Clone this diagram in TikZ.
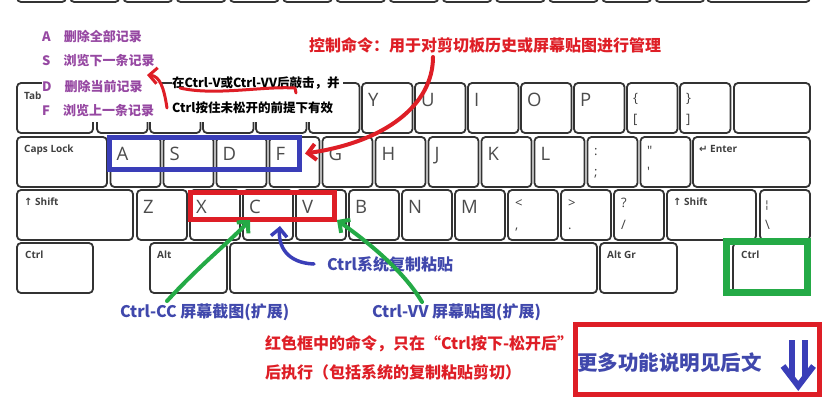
\documentclass[tikz,border=0pt]{standalone}
\usepackage{fontspec}
\setmainfont{Open Sans}
\newfontfamily\cjk{Noto Sans CJK SC}
\newfontfamily\arrowfont{DejaVu Sans}
\usetikzlibrary{arrows.meta}

\definecolor{penred}{RGB}{222,30,38}
\definecolor{penblue}{RGB}{58,62,184}
\definecolor{txtblue}{RGB}{64,72,172}
\definecolor{pengreen}{RGB}{36,170,70}
\definecolor{listpurple}{RGB}{150,72,162}

\tikzset{
  keycap/.style={draw=black!80, line width=1.8pt, rounded corners=4pt, fill=white},
  keychar/.style={anchor=base west, inner sep=0pt, text=black!70, font=\fontsize{18.5}{18.5}\selectfont},
  keyname/.style={anchor=base west, inner sep=0pt, text=black!75, font=\bfseries\fontsize{10}{10}\selectfont},
  keysym/.style={anchor=base west, inner sep=0pt, text=black!75, font=\fontsize{13}{13}\selectfont},
  listtext/.style={anchor=west, inner sep=0pt, text=listpurple, font=\cjk\bfseries\fontsize{13}{13}\selectfont},
  notetext/.style={anchor=west, inner sep=0pt, text=black, font=\cjk\bfseries\fontsize{12.5}{12.5}\selectfont},
  titletext/.style={inner sep=0pt, text=penred, font=\cjk\bfseries\fontsize{16}{16}\selectfont},
  bluetext/.style={anchor=west, inner sep=0pt, text=txtblue, font=\cjk\bfseries\fontsize{16}{16}\selectfont},
  redtext/.style={anchor=west, inner sep=0pt, text=penred, font=\cjk\bfseries\fontsize{16}{16}\selectfont},
  moretext/.style={anchor=west, inner sep=0pt, text=txtblue, font=\cjk\bfseries\fontsize{20.5}{20.5}\selectfont},
  penbox/.style={line width=5pt, inner sep=0pt},
  hand/.style={line width=4pt, line cap=round, line join=round},
  handtip/.style={-{Straight Barb[length=8pt,width=16pt]}}
}

\begin{document}
\begin{tikzpicture}[x=1pt,y=-1pt]
  %%%%% START %%%%%
  \def\rowN{2}
  \def\rowQ{83}
  \def\rowA{137}
  \def\rowZ{190}
  \def\rowB{243}
  \def\kh{50}
  \def\pitch{53}

  \useasboundingbox (0,0) rectangle (827,400);
  \clip (0,0) rectangle (827,400);

  % number row, only its lower edge is left
  \foreach \i in {0,...,12}
    \draw[keycap] ({17+53.2*\i},\rowN-\kh) rectangle ({66+53.2*\i},\rowN);
  \draw[keycap] (707,\rowN-\kh) rectangle (810,\rowN);

  % Q row
  \draw[keycap] (17,\rowQ) rectangle (93,\rowQ+\kh);
  \foreach \i in {0,...,11}
    \draw[keycap] ({97+\pitch*\i},\rowQ) rectangle ({147.5+\pitch*\i},\rowQ+\kh);
  \draw[keycap] (734,\rowQ) rectangle (810,\rowQ+\kh);
  \node[keyname] (ktab) at (24,\rowQ+16) {Tab};
  \foreach \l [count=\i from 5] in {Y,U,I,O,P}
    \node[keychar] (kq\i) at ({103+\pitch*\i},\rowQ+23.5) {\l};
  \node[keysym] (kbrl) at (633,\rowQ+19) {\{};
  \node[keysym] (kbkl) at (633,\rowQ+40) {[};
  \node[keysym] (kbrr) at (686,\rowQ+19) {\}};
  \node[keysym] (kbkr) at (686,\rowQ+40) {]};

  % A row
  \draw[keycap] (17,\rowA) rectangle (107,\rowA+\kh);
  \foreach \i in {0,...,10}
    \draw[keycap] ({110.5+\pitch*\i},\rowA) rectangle ({160.5+\pitch*\i},\rowA+\kh);
  \draw[keycap] (693,\rowA) rectangle (810,\rowA+\kh);
  \node[keyname] (kcaps) at (24,\rowA+15) {Caps Lock};
  \foreach \l [count=\i from 0] in {A,S,D,F,G,H,J,K,L}
    \node[keychar] (ka\i) at ({116.5+\pitch*\i},\rowA+23.5) {\l};
  \node[keysym] (kcolon) at (594,\rowA+18) {:};
  \node[keysym] (ksemi) at (594,\rowA+39) {;};
  \node[keysym] (kdquote) at (647,\rowA+18) {\textquotedbl};
  \node[keysym] (kquote) at (647,\rowA+39) {\textquotesingle};
  \node[keyname] (kenter) at (699,\rowA+15) {{\arrowfont ↵} Enter};

  % Z row
  \draw[keycap] (17,\rowZ) rectangle (133,\rowZ+\kh);
  \foreach \i in {0,...,9}
    \draw[keycap] ({137+\pitch*\i},\rowZ) rectangle ({187+\pitch*\i},\rowZ+\kh);
  \draw[keycap] (667,\rowZ) rectangle (756,\rowZ+\kh);
  \draw[keycap] (760,\rowZ) rectangle (810,\rowZ+\kh);
  \node[keyname] (klshift) at (24,\rowZ+15) {{\arrowfont ↑} Shift};
  \foreach \l [count=\i from 0] in {Z,X,C,V,B,N,M}
    \node[keychar] (kz\i) at ({143+\pitch*\i},\rowZ+23.5) {\l};
  \node[keysym] (kless) at (515,\rowZ+17) {<};
  \node[keysym] (kcomma) at (515,\rowZ+39) {,};
  \node[keysym] (kmore) at (568,\rowZ+17) {>};
  \node[keysym] (kdot) at (568,\rowZ+39) {.};
  \node[keysym] (kquest) at (621,\rowZ+17) {?};
  \node[keysym] (kslash) at (621,\rowZ+39) {/};
  \node[keyname] (krshift) at (673,\rowZ+15) {{\arrowfont ↑} Shift};
  \node[keysym] (kbar) at (765,\rowZ+18) {{\arrowfont\fontsize{11}{11}\selectfont ¦}};
  \node[keysym] (kbslash) at (765,\rowZ+39) {\textbackslash};

  % bottom row
  \draw[keycap] (17,\rowB) rectangle (93,\rowB+\kh);
  \draw[keycap] (150,\rowB) rectangle (227,\rowB+\kh);
  \draw[keycap] (230,\rowB) rectangle (597,\rowB+\kh);
  \draw[keycap] (600,\rowB) rectangle (677,\rowB+\kh);
  \draw[keycap] (733,\rowB) rectangle (810,\rowB+\kh);
  \node[keyname] (klctrl) at (25,\rowB+15) {Ctrl};
  \node[keyname] (kalt) at (157,\rowB+15) {Alt};
  \node[keyname] (kaltgr) at (607,\rowB+15) {Alt Gr};
  \node[keyname] (krctrl) at (741,\rowB+15) {Ctrl};

  % white patches under the notes
  \fill[white] (42,76) rectangle (160,122);
  \fill[white] (172,76) rectangle (343,122);

  % notes
  \node[listtext] (lsta) at (42,37) {A\quad 删除全部记录};
  \node[listtext] (lsts) at (42,61) {S\quad 浏览下一条记录};
  \node[listtext] (lstd) at (42,87) {D\quad 删除当前记录};
  \node[listtext] (lstf) at (42,111) {F\quad 浏览上一条记录};
  \node[notetext] (note1) at (172,83) {在Ctrl-V或Ctrl-VV后敲击，并};
  \node[notetext] (note2) at (172,108) {Ctrl按住未松开的前提下有效};
  \node[titletext] (ttl) at (485,45) {控制命令：用于对剪切板历史或屏幕贴图进行管理};

  % boxes
  \node[penbox, draw=penblue, minimum width=190pt, minimum height=32pt] (asdf) at (204.5,153.5) {};
  \node[penbox, draw=penred, minimum width=144pt, minimum height=27pt] (xcv) at (262.5,206) {};
  \node[penbox, draw=pengreen, line width=7pt, minimum width=81pt, minimum height=51pt] (rctrl) at (766.5,266.5) {};
  \node[penbox, draw=penred, minimum width=244pt, minimum height=70pt] (more) at (697.5,359.5) {};

  \node[bluetext] (sys) at (327,264) {Ctrl系统复制粘贴};
  \node[bluetext] (cc) at (120,312) {Ctrl-CC 屏幕截图(扩展)};
  \node[bluetext] (vv) at (372,312) {Ctrl-VV 屏幕贴图(扩展)};
  \node[redtext] (rule1) at (265,344) {红色框中的命令，只在“Ctrl按下-松开后”};
  \node[redtext] (rule2) at (265,372) {后执行（包括系统的复制粘贴剪切）};
  \node[moretext] (moretxt) at (577,363) {更多功能说明见后文};

  % down arrow
  \draw[penblue, line width=6pt] (791.5,340) -- (791.5,377) (805,340) -- (805,377);
  \draw[penblue, line width=6pt] (783,366) -- (798.25,386) -- (813.5,366);

  % pen strokes
  \coordinate (ttlfoot) at (433,57);
  \draw[hand, penred, handtip] (ttlfoot) .. controls (433,105) and (385,142) .. ([xshift=3pt]asdf.east);
  \coordinate (hookend) at (147,75);
  \draw[hand, penred, handtip, line width=3pt] ([xshift=-5pt]note2.west) .. controls (164,88) and (160,76) .. (hookend);
  \draw[hand, penred, line width=3pt] (180,88) .. controls (215,96) and (262,86) .. (295,88) -- (296,93);
  \draw[hand, penblue, handtip, line width=3.5pt] ([xshift=-13pt]sys.west) .. controls (287,263) and (278,246) .. ([xshift=17.5pt,yshift=-4pt]xcv.south);
  \coordinate (ccfoot) at (167,301);
  \draw[hand, pengreen, handtip] (ccfoot) .. controls (200,265) and (228,243) .. ([xshift=-12.5pt,yshift=2pt]xcv.south);
  \coordinate (vvfoot) at (422,302);
  \draw[hand, pengreen, handtip] (vvfoot) .. controls (402,268) and (362,238) .. ([yshift=2pt]xcv.south east);
  %%%%% END %%%%%
\end{tikzpicture}
\end{document}
